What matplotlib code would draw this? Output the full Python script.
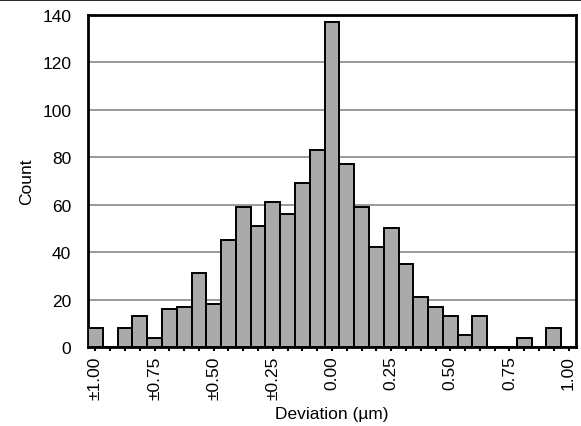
import numpy as np
import matplotlib.pyplot as plt
from matplotlib.lines import Line2D

plt.rcParams['font.family'] = ['Liberation Sans', 'DejaVu Sans']

# bin centres go from -1.00 to 1.00 in steps of 1/16 um
bin_width = 0.0625
centers = np.arange(-16, 17) * bin_width
counts = [8, 0, 8, 13, 4, 16, 17, 31, 18, 45, 59, 51, 61, 56, 69, 83, 137,
          77, 59, 42, 50, 35, 21, 17, 13, 5, 13, 0, 0, 4, 0, 8, 0]
tick_vals = [-1.0, -0.75, -0.5, -0.25, 0.0, 0.25, 0.5, 0.75, 1.0]
tick_labels = ['±1.00', '±0.75', '±0.50', '±0.25', '0.00', '0.25', '0.50', '0.75', '1.00']

fs = 12.5

fig = plt.figure(figsize=(5.81, 4.27), dpi=100)
ax = fig.add_axes([88/581, 1 - 348/427, (576 - 88)/581, (348 - 16)/427])

ax.bar(centers, counts, width=bin_width, color='#aaaaaa', edgecolor='black',
       linewidth=1.4, zorder=3)

ax.set_xlim(-1 - bin_width/2, 1 + bin_width/2)
ax.set_ylim(0, 140)
ax.set_yticks(range(0, 141, 20))
ax.yaxis.grid(True, color='#7f7f7f', linewidth=1.1, zorder=0)
ax.set_axisbelow(True)

ax.set_xticks(centers, minor=True)
ax.set_xticks(tick_vals)
ax.set_xticklabels(tick_labels, rotation=90, fontsize=fs)
ax.tick_params(axis='x', which='both', direction='out', length=3, width=1.5, pad=3)
ax.tick_params(axis='y', length=0, labelsize=fs, pad=12)

for s in ax.spines.values():
    s.set_linewidth(2)
    s.set_color('black')

ax.set_xlabel('Deviation (µm)', fontsize=fs, labelpad=5)
ax.set_ylabel('Count', fontsize=fs, labelpad=6)

# thin rule along the top of the picture
fig.add_artist(Line2D([0, 1], [0.998, 0.998], transform=fig.transFigure,
                      color='black', linewidth=1.2))

plt.savefig('out.png', dpi=100)
